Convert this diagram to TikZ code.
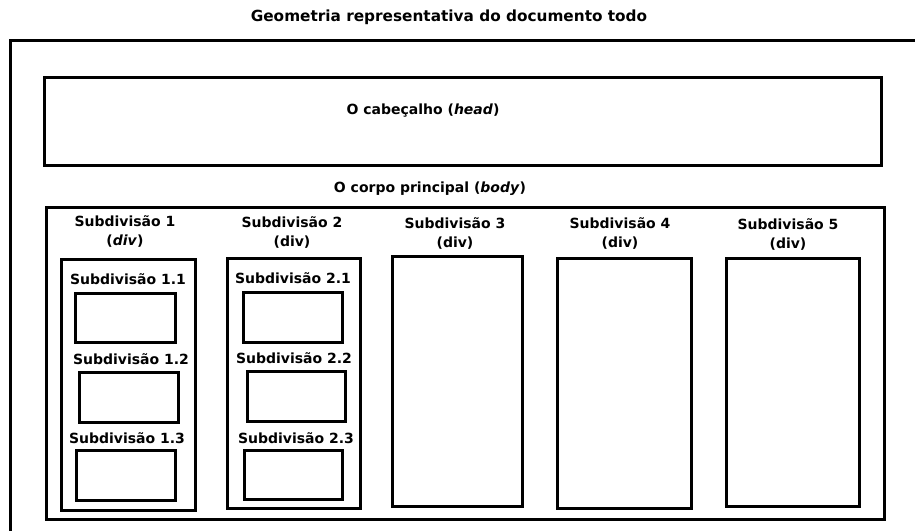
\documentclass[tikz,border=0pt]{standalone}
\usepackage{fontspec}
\setmainfont{DejaVu Sans}
\usetikzlibrary{positioning}

\begin{document}
\begin{tikzpicture}[x=1pt,y=-1pt,
        caixa/.style={rectangle,draw,line width=3pt,inner sep=0pt,outer sep=0pt,anchor=north west},
        rotulo/.style={font=\bfseries\fontsize{14}{19}\selectfont,align=center,inner sep=0pt},
        titulo/.style={font=\bfseries\fontsize{15.3}{17}\selectfont,inner sep=0pt}
      ]
        \useasboundingbox (0,0) rectangle (915,530);
        \clip (0,0) rectangle (915,530);
        \node[titulo] (tit) at (449,17) {Geometria representativa do documento todo};
        \node[caixa,minimum width=930,minimum height=520] (documento) at (10.5,40.5) {};
        \node[caixa,minimum width=837,minimum height=88] (cabecalho) at (44.5,77.5) {};
        \node[rotulo] (cabtxt) at (423,111) {O cabeçalho (\textit{head})};
        \node[rotulo] (corpotxt) at (430,189) {O corpo principal (\textit{body})};
        \node[caixa,minimum width=838,minimum height=312] (corpo) at (46.5,207.5) {};
        % subdivisoes
        \node[rotulo] (sub1txt) at (125,231) {Subdivisão 1\\(\textit{div})};
        \node[caixa,minimum width=134,minimum height=251] (sub1) at (61.5,259.5) {};
        \node[rotulo] (sub11txt) at (128,279) {Subdivisão 1.1};
        \node[caixa,minimum width=100,minimum height=49] (sub11) at (75.5,293.5) {};
        \node[rotulo] (sub12txt) at (131,359) {Subdivisão 1.2};
        \node[caixa,minimum width=99,minimum height=50] (sub12) at (79.5,372.5) {};
        \node[rotulo] (sub13txt) at (127,438) {Subdivisão 1.3};
        \node[caixa,minimum width=99,minimum height=50] (sub13) at (76.5,450.5) {};
        \node[rotulo] (sub2txt) at (292,232.5) {Subdivisão 2\\(div)};
        \node[caixa,minimum width=133,minimum height=250] (sub2) at (227.5,258.5) {};
        \node[rotulo] (sub21txt) at (293,278) {Subdivisão 2.1};
        \node[caixa,minimum width=99,minimum height=50] (sub21) at (243.5,292.5) {};
        \node[rotulo] (sub22txt) at (294,358) {Subdivisão 2.2};
        \node[caixa,minimum width=98,minimum height=50] (sub22) at (247.5,371.5) {};
        \node[rotulo] (sub23txt) at (296,438) {Subdivisão 2.3};
        \node[caixa,minimum width=98,minimum height=49] (sub23) at (244.5,450.5) {};
        \node[rotulo] (sub3txt) at (455,233) {Subdivisão 3\\(div)};
        \node[caixa,minimum width=130,minimum height=250] (sub3) at (392.5,256.5) {};
        \node[rotulo] (sub4txt) at (620,233.5) {Subdivisão 4\\(div)};
        \node[caixa,minimum width=134,minimum height=250] (sub4) at (557.5,258.5) {};
        \node[rotulo] (sub5txt) at (788,234) {Subdivisão 5\\(div)};
        \node[caixa,minimum width=133,minimum height=248] (sub5) at (726.5,258.5) {};
      \end{tikzpicture}
\end{document}
